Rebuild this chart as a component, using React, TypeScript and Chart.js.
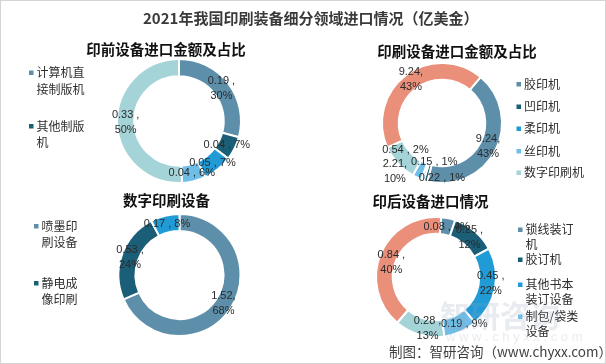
import React, { useEffect, useRef } from "react";
import { Chart, registerables } from "chart.js";
Chart.register(...registerables);

const W = 606;
const H = 364;
const CJK = '"Noto Sans CJK SC", "Noto Sans", sans-serif';
const LAT = '"Liberation Sans", "Noto Sans CJK SC", sans-serif';

const mainTitle = "2021年我国印刷装备细分领域进口情况（亿美金）";
const sourceText = "制图：智研咨询（www.chyxx.com）";

// 印前设备
const prepressTitle = "印前设备进口金额及占比";
const prepressCategories = ["计算机直接制版机", "其他制版机", "", "", ""];
const prepressValues = [0.19, 0.04, 0.05, 0.04, 0.33];
const prepressShares = [30, 7, 7, 6, 50];

// 印刷设备
const pressTitle = "印刷设备进口金额及占比";
const pressCategories = ["胶印机", "凹印机", "柔印机", "丝印机", "数字印刷机", ""];
const pressValues = [9.24, 0.22, 0.15, 0.54, 2.21, 9.24];
const pressShares = [43, 1, 1, 2, 10, 43];

// 数字印刷设备
const digitalTitle = "数字印刷设备";
const digitalCategories = ["喷墨印刷设备", "静电成像印刷", ""];
const digitalValues = [1.52, 0.53, 0.17];
const digitalShares = [68, 24, 8];

// 印后设备
const postpressTitle = "印后设备进口情况";
const postpressCategories = ["锁线装订机", "胶订机", "其他书本装订设备", "制包/袋类设备", "", ""];
const postpressValues = [0.08, 0.25, 0.45, 0.19, 0.28, 0.84];
const postpressShares = [4, 12, 22, 9, 13, 40];

const palette = ["#5e8faa", "#1a5e78", "#209bd6", "#6ebee8", "#a5d4d8", "#e98f7a"];

type Cfg = {
  title: string;
  titleX: number;
  titleY: number;
  categories: string[];
  values: number[];
  shares: number[];
  cx: number;
  cy: number;
  r: number;
  rotation: number;
  legendCount: number;
  legendX: number;
  legendYs: number[];
  legendLineH: number;
  legendMaxW: number;
  nudges: [number, number][];
  before?: (ctx: CanvasRenderingContext2D) => void;
  after?: (ctx: CanvasRenderingContext2D) => void;
};

function wrapText(ctx: CanvasRenderingContext2D, text: string, maxW: number): string[] {
  const lines: string[] = [];
  let cur = "";
  for (const ch of Array.from(text)) {
    if (cur && ctx.measureText(cur + ch).width > maxW) {
      lines.push(cur);
      cur = ch;
    } else cur += ch;
  }
  if (cur) lines.push(cur);
  return lines;
}

function labelLines(v: number, p: number): string[] {
  const sep = v >= 1 ? "," : " ,";
  if (p >= 10) return [`${v}${sep}`, `${p}%`];
  return [`${v}${sep} ${p}%`];
}

function makePlugin(cfg: Cfg) {
  return {
    id: "deco",
    beforeDraw(chart: any) {
      if (cfg.before) {
        const ctx = chart.ctx as CanvasRenderingContext2D;
        ctx.save();
        cfg.before(ctx);
        ctx.restore();
      }
    },
    afterDraw(chart: any) {
      const ctx = chart.ctx as CanvasRenderingContext2D;
      ctx.save();
      // title
      ctx.font = `bold 14.5px ${CJK}`;
      ctx.fillStyle = "#111";
      ctx.textAlign = "center";
      ctx.textBaseline = "middle";
      ctx.fillText(cfg.title, cfg.titleX, cfg.titleY);
      // legend
      ctx.font = `12px ${CJK}`;
      ctx.textAlign = "left";
      for (let i = 0; i < cfg.legendCount; i++) {
        const lines = wrapText(ctx, cfg.categories[i], cfg.legendMaxW);
        const y0 = cfg.legendYs[i];
        ctx.fillStyle = palette[i];
        ctx.fillRect(cfg.legendX, y0 - 2, 4.5, 4.5);
        ctx.fillStyle = "#2e2e2e";
        lines.forEach((l, k) => ctx.fillText(l, cfg.legendX + 7.5, y0 + k * cfg.legendLineH));
      }
      // data labels
      const meta = chart.getDatasetMeta(0);
      ctx.font = `11px ${LAT}`;
      ctx.textAlign = "center";
      ctx.fillStyle = "#2b2b2b";
      meta.data.forEach((arc: any, i: number) => {
        const p = arc.getProps(["x", "y", "startAngle", "endAngle", "innerRadius", "outerRadius"], true);
        const mid = (p.startAngle + p.endAngle) / 2;
        const rr = (p.innerRadius + p.outerRadius) / 2;
        const nd = cfg.nudges[i] || [0, 0];
        const px = p.x + Math.cos(mid) * rr + nd[0];
        const py = p.y + Math.sin(mid) * rr + nd[1];
        const lines = labelLines(cfg.values[i], cfg.shares[i]);
        const lh = 15;
        lines.forEach((l, k) => ctx.fillText(l, px, py + (k - (lines.length - 1) / 2) * lh));
      });
      if (cfg.after) cfg.after(ctx);
      ctx.restore();
    },
  };
}

const drawFrame = (ctx: CanvasRenderingContext2D) => {
  ctx.fillStyle = "#ffffff";
  ctx.fillRect(0, 0, W, H);
  ctx.strokeStyle = "#d4d4d4";
  ctx.lineWidth = 1;
  ctx.strokeRect(0.5, 0.5, W - 1, H - 1);
  ctx.font = `bold 15px ${CJK}`;
  ctx.fillStyle = "#3a3a3a";
  ctx.textAlign = "left";
  ctx.textBaseline = "middle";
  ctx.fillText(mainTitle, 143, 18);
};

const drawFooter = (ctx: CanvasRenderingContext2D) => {
  ctx.textBaseline = "middle";
  ctx.textAlign = "left";
  ctx.fillStyle = "rgba(150,165,180,0.22)";
  ctx.font = `bold 30px ${CJK}`;
  ctx.fillText("智研咨询", 440, 316);
  ctx.font = `13px ${LAT}`;
  const wm = "w w w . c h y x x . c o m";
  ctx.fillText(wm, 446, 337);
  ctx.fillStyle = "#404040";
  ctx.font = `13.5px ${CJK}`;
  ctx.fillText(sourceText, 389, 352);
};

const configs: Cfg[] = [
  {
    title: prepressTitle, titleX: 166, titleY: 49,
    categories: prepressCategories, values: prepressValues, shares: prepressShares,
    cx: 179, cy: 121, r: 61, rotation: 0,
    legendCount: 2, legendX: 29, legendYs: [72.5, 126], legendLineH: 16.5, legendMaxW: 52,
    nudges: [],
    before: drawFrame,
  },
  {
    title: pressTitle, titleX: 457, titleY: 51,
    categories: pressCategories, values: pressValues, shares: pressShares,
    cx: 442, cy: 123, r: 59, rotation: 40,
    legendCount: 5, legendX: 516.5, legendYs: [84, 106.5, 128.5, 151, 172.5], legendLineH: 16, legendMaxW: 200,
    nudges: [[0, 0], [14, 5], [9, -10], [-15, -20], [-9, 14], [0, -2]],
  },
  {
    title: digitalTitle, titleX: 166.5, titleY: 200,
    categories: digitalCategories, values: digitalValues, shares: digitalShares,
    cx: 179.5, cy: 275, r: 60, rotation: 0,
    legendCount: 2, legendX: 34, legendYs: [226, 283], legendLineH: 16.5, legendMaxW: 40,
    nudges: [],
  },
  {
    title: postpressTitle, titleX: 430.5, titleY: 201.5,
    categories: postpressCategories, values: postpressValues, shares: postpressShares,
    cx: 436, cy: 277, r: 59, rotation: 5,
    legendCount: 4, legendX: 518, legendYs: [229.5, 259.5, 284.5, 316.5], legendLineH: 15, legendMaxW: 54,
    nudges: [[0, 0], [0, 0], [4, -3], [7, 0], [6, 2], [3, 5]],
    after: drawFooter,
  },
];

function DonutLayer({ cfg }: { cfg: Cfg }) {
  const ref = useRef<HTMLCanvasElement | null>(null);
  useEffect(() => {
    if (!ref.current) return;
    const R = cfg.r + 1;
    const inner = cfg.r * 0.75 - 1;
    const chart = new Chart(ref.current, {
      type: "doughnut",
      data: {
        labels: cfg.categories,
        datasets: [
          {
            data: cfg.values,
            backgroundColor: palette.slice(0, cfg.values.length),
            borderColor: "#ffffff",
            borderWidth: 2,
            hoverOffset: 0,
          },
        ],
      },
      options: {
        animation: false,
        responsive: false,
        events: [],
        rotation: cfg.rotation,
        radius: R,
        cutout: `${(inner / R) * 100}%`,
        layout: {
          padding: {
            left: cfg.cx - R,
            right: W - cfg.cx - R,
            top: cfg.cy - R,
            bottom: H - cfg.cy - R,
          },
        },
        plugins: {
          legend: { display: false },
          tooltip: { enabled: false },
          title: { display: false },
        },
      } as any,
      plugins: [makePlugin(cfg)],
    });
    return () => chart.destroy();
  }, [cfg]);
  return (
    <canvas
      ref={ref}
      width={W}
      height={H}
      style={{ position: "absolute", left: 0, top: 0, width: W, height: H }}
    />
  );
}

export default function App() {
  return (
    <div style={{ position: "fixed", left: 0, top: 0, width: W, height: H, background: "#fff" }}>
      {configs.map((c, i) => (
        <DonutLayer key={i} cfg={c} />
      ))}
    </div>
  );
}
